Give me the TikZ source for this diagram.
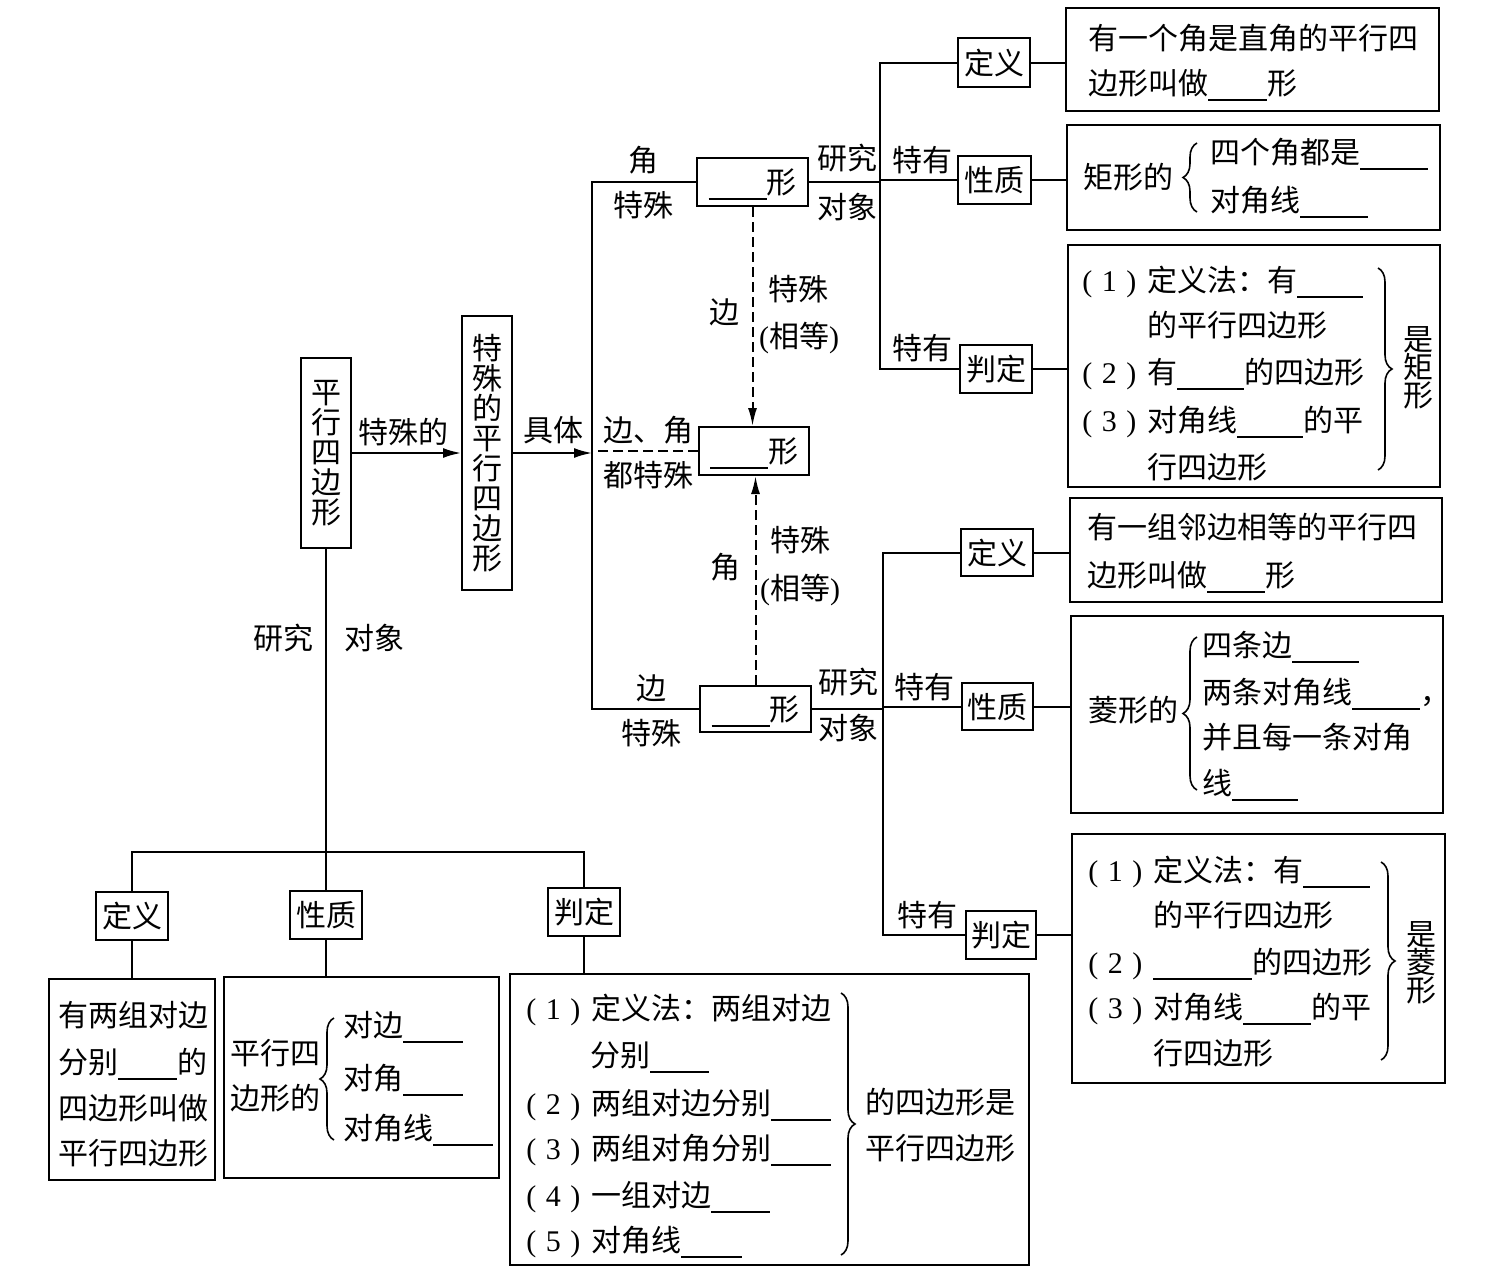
\documentclass[tikz,border=0pt]{standalone}
\usepackage{fontspec}
\setmainfont{Noto Sans CJK SC}
\newfontfamily\lsr{Liberation Serif}
\usetikzlibrary{fit,arrows.meta,decorations.pathreplacing}
\newcommand\bk[1]{\rule[-3pt]{\dimexpr #1pt/2\relax}{0.7pt}}
\newcommand\pn[1]{\makebox[27pt][s]{\lsr(\hfil #1\hfil)}\hspace{5.5pt}}
\newcommand\pr[1]{{\lsr(}#1{\lsr)}}
\tikzset{
  box/.style={draw, line width=1pt, inner sep=0pt},
  txt/.style={anchor=west, inner sep=0pt, text height=12.5pt, text depth=1pt},
  lbl/.style={inner sep=0pt, text height=12.5pt, text depth=1pt},
  ln/.style={line width=1pt},
  arr/.style={ln, -{Latex[length=9pt,width=5pt]}},
  darr/.style={ln, dash pattern=on 5pt off 2.5pt, -{Latex[length=9pt,width=4.5pt]}},
  dsh/.style={ln, dash pattern=on 5pt off 2.5pt},
  brc/.style={decorate, decoration={brace, amplitude=7pt}, line width=0.8pt},
  vtxt/.style={align=center, inner sep=0pt, font=\fontsize{15pt}{14pt}\selectfont},
  vbig/.style={align=center, inner sep=0pt, font=\fontsize{15pt}{15pt}\selectfont}
}
\begin{document}
\begin{tikzpicture}[x=0.5pt, y=-0.5pt, font=\fontsize{15pt}{15pt}\selectfont]
\useasboundingbox (0,0) rectangle (1498,1285);

% ---------- left main boxes ----------
\node[box, fit={(301,358) (351,548)}] (pb) {};
\node[vbig] (pbt) at (pb.center) {平\\行\\四\\边\\形};
\node[box, fit={(462,316) (512,590)}] (sp) {};
\node[vbig] (spt) at (sp.center) {特\\殊\\的\\平\\行\\四\\边\\形};
\coordinate (tk) at (592,453);

% ---------- middle boxes ----------
\node[box, fit={(697,158) (808,206)}] (tbox) {};
\node[lbl] (tboxt) at (tbox.center) {\bk{58}形};
\node[box, fit={(699,427) (809,475)}] (mbox) {};
\node[lbl] (mboxt) at (mbox.center) {\bk{58}形};
\node[box, fit={(700,686) (811,732)}] (bbox) {};
\node[lbl] (bboxt) at (bbox.center) {\bk{58}形};

% ---------- rectangle branch ----------
\node[box, fit={(958,38) (1030,87)}] (rdh) {};
\node[lbl] (rdht) at (rdh.center) {定义};
\node[box, fit={(958,156) (1031,204)}] (rxh) {};
\node[lbl] (rxht) at (rxh.center) {性质};
\node[box, fit={(960,345) (1032,393)}] (rjh) {};
\node[lbl] (rjht) at (rjh.center) {判定};
\coordinate (rt) at (880,62.5);
\coordinate (rb) at (880,369);

\node[box, fit={(1066,8) (1439,111)}] (rdc) {};
\node[txt] (rd1) at (1088,38) {有一个角是直角的平行四};
\node[txt] (rd2) at (1088,83) {边形叫做\bk{59}形};

\node[box, fit={(1067,125) (1440,230)}] (rxc) {};
\node[txt] (rx0) at (1083,177) {矩形的};
\node[txt] (rx1) at (1210,152) {四个角都是\bk{68}};
\node[txt] (rx2) at (1210,200) {对角线\bk{68}};
\draw[brc] (1197,212) -- (1197,143);

\node[box, fit={(1068,245) (1440,487)}] (rjc) {};
\node[txt] (rj1) at (1082,280) {\pn{1}定义法：有\bk{66}};
\node[txt] (rj2) at (1147,325) {的平行四边形};
\node[txt] (rj3) at (1082,372) {\pn{2}有\bk{67}的四边形};
\node[txt] (rj4) at (1082,420) {\pn{3}对角线\bk{66}的平};
\node[txt] (rj5) at (1147,467) {行四边形};
\draw[brc] (1378,268) -- (1378,470);
\node[vtxt] (rjs) at (1418,368) {是\\矩\\形};

% ---------- rhombus branch ----------
\node[box, fit={(961,529) (1033,576)}] (sdh) {};
\node[lbl] (sdht) at (sdh.center) {定义};
\node[box, fit={(962,683) (1033,730)}] (sxh) {};
\node[lbl] (sxht) at (sxh.center) {性质};
\node[box, fit={(966,911) (1036,959)}] (sjh) {};
\node[lbl] (sjht) at (sjh.center) {判定};
\coordinate (st) at (883,552.5);
\coordinate (sb) at (883,935);

\node[box, fit={(1070,498) (1442,602)}] (sdc) {};
\node[txt] (sd1) at (1087,527) {有一组邻边相等的平行四};
\node[txt] (sd2) at (1087,575) {边形叫做\bk{58}形};

\node[box, fit={(1071,616) (1443,813)}] (sxc) {};
\node[txt] (sx0) at (1088,710) {菱形的};
\node[txt] (sx1) at (1202,645) {四条边\bk{67}};
\node[txt] (sx2) at (1202,692) {两条对角线\bk{68}，};
\node[txt] (sx3) at (1202,737) {并且每一条对角};
\node[txt] (sx4) at (1202,783) {线\bk{66}};
\draw[brc] (1197,790) -- (1197,637);

\node[box, fit={(1072,834) (1445,1083)}] (sjc) {};
\node[txt] (sj1) at (1088,870) {\pn{1}定义法：有\bk{67}};
\node[txt] (sj2) at (1153,915) {的平行四边形};
\node[txt] (sj3) at (1088,962) {\pn{2}\bk{99}的四边形};
\node[txt] (sj4) at (1088,1007) {\pn{3}对角线\bk{68}的平};
\node[txt] (sj5) at (1153,1053) {行四边形};
\draw[brc] (1381,862) -- (1381,1060);
\node[vtxt] (sjs) at (1421,963) {是\\菱\\形};

% ---------- bottom branch ----------
\node[box, fit={(96,892) (168,940)}] (bdh) {};
\node[lbl] (bdht) at (bdh.center) {定义};
\node[box, fit={(290,891) (362,939)}] (bxh) {};
\node[lbl] (bxht) at (bxh.center) {性质};
\node[box, fit={(548,888) (620,936)}] (bjh) {};
\node[lbl] (bjht) at (bjh.center) {判定};
\coordinate (hl) at (132,852);
\coordinate (hr) at (584,852);

\node[box, fit={(49,979) (215,1180)}] (bdc) {};
\node[txt] (bd1) at (58,1015) {有两组对边};
\node[txt] (bd2) at (58,1062) {分别\bk{59}的};
\node[txt] (bd3) at (58,1108) {四边形叫做};
\node[txt] (bd4) at (58,1153) {平行四边形};

\node[box, fit={(224,977) (499,1178)}] (bxc) {};
\node[txt] (bx0) at (230,1053) {平行四};
\node[txt] (bx9) at (230,1098) {边形的};
\node[txt] (bx1) at (343,1025) {对边\bk{60}};
\node[txt] (bx2) at (343,1078) {对角\bk{60}};
\node[txt] (bx3) at (343,1128) {对角线\bk{60}};
\draw[brc] (334,1140) -- (334,1018);

\node[box, fit={(510,974) (1029,1265)}] (bjc) {};
\node[txt] (bj1) at (526,1008) {\pn{1}定义法：两组对边};
\node[txt] (bj2) at (590,1055) {分别\bk{59}};
\node[txt] (bj3) at (526,1103) {\pn{2}两组对边分别\bk{60}};
\node[txt] (bj4) at (526,1148) {\pn{3}两组对角分别\bk{60}};
\node[txt] (bj5) at (526,1195) {\pn{4}一组对边\bk{59}};
\node[txt] (bj6) at (526,1240) {\pn{5}对角线\bk{61}};
\draw[brc] (841,993) -- (841,1255);
\node[txt] (bj7) at (865,1102) {的四边形是};
\node[txt] (bj8) at (865,1148) {平行四边形};

% ---------- labels ----------
\node[lbl] (l1) at (403,432) {特殊的};
\node[lbl] (l2) at (553,430) {具体};
\node[lbl] (l3) at (283,638) {研究};
\node[lbl] (l4) at (374,638) {对象};
\node[lbl] (l5) at (643,160) {角};
\node[lbl] (l6) at (643,205) {特殊};
\node[lbl] (l7) at (648,430) {边、角};
\node[lbl] (l8) at (648,475) {都特殊};
\node[lbl] (l9) at (651,688) {边};
\node[lbl] (l10) at (651,733) {特殊};
\node[lbl] (l11) at (724,312) {边};
\node[lbl] (l12) at (798,289) {特殊};
\node[lbl] (l13) at (799,336) {\pr{相等}};
\node[lbl] (l14) at (725,567) {角};
\node[lbl] (l15) at (800,540) {特殊};
\node[lbl] (l16) at (800,588) {\pr{相等}};
\node[lbl] (l17) at (847,158) {研究};
\node[lbl] (l18) at (847,207) {对象};
\node[lbl] (l19) at (922,160) {特有};
\node[lbl] (l20) at (922,348) {特有};
\node[lbl] (l21) at (848,682) {研究};
\node[lbl] (l22) at (848,728) {对象};
\node[lbl] (l23) at (924,687) {特有};
\node[lbl] (l24) at (927,915) {特有};

% ---------- connectors ----------
\draw[arr] (pb) -- (sp);
\draw[arr] (sp.east) -- (tk);
\draw[ln] (tbox.west) -| (tk) |- (bbox.west);
\draw[dsh] (mbox.west) -- (mbox.west -| tk);
\draw[darr] (tbox.south) -- (tbox.south |- mbox.north);
\draw[darr] (bbox.north) -- (bbox.north |- mbox.south);

\draw[ln] (rdh.west) -- (rt) -- (rb) -- (rjh.west);
\draw[ln] (tbox.east) -- (tbox.east -| rt);
\draw[ln] (rxh.west) -- (rxh.west -| rt);
\draw[ln] (rdh.east) -- (rdh.east -| rdc.west);
\draw[ln] (rxh.east) -- (rxh.east -| rxc.west);
\draw[ln] (rjh.east) -- (rjh.east -| rjc.west);

\draw[ln] (sdh.west) -- (st) -- (sb) -- (sjh.west);
\draw[ln] (bbox.east) -- (bbox.east -| st);
\draw[ln] (sxh.west) -- (sxh.west -| st);
\draw[ln] (sdh.east) -- (sdh.east -| sdc.west);
\draw[ln] (sxh.east) -- (sxh.east -| sxc.west);
\draw[ln] (sjh.east) -- (sjh.east -| sjc.west);

\draw[ln] (pb.south) -- (bxh.north);
\draw[ln] (bdh.north) -- (hl) -- (hr) -- (bjh.north);
\draw[ln] (bdh.south) -- (bdh.south |- bdc.north);
\draw[ln] (bxh.south) -- (bxh.south |- bxc.north);
\draw[ln] (bjh.south) -- (bjh.south |- bjc.north);
\end{tikzpicture}
\end{document}
